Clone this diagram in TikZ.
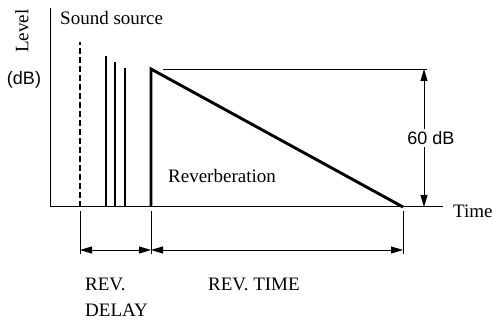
\documentclass[tikz,border=0pt]{standalone}
\usepackage{fontspec}
\setmainfont{Liberation Serif}
\newfontfamily\labelsans{Liberation Sans}
\usetikzlibrary{arrows.meta,positioning}

\begin{document}
\begin{tikzpicture}[x=1pt, y=-1pt,
  font=\fontsize{19}{22}\selectfont,
  axis/.style ={line width=1pt},
  pulse/.style={line width=2.9pt},
  direct/.style={line width=2.6pt, dash pattern=on 6pt off 3pt},
  guide/.style={line width=0.9pt},
  dim/.style  ={{Triangle[length=12pt,width=7pt]}-{Triangle[length=12pt,width=7pt]},
                line width=0.9pt},
  txt/.style  ={inner sep=0pt},
  sanstxt/.style={inner sep=2pt, fill=white,
                font=\labelsans\fontsize{18}{21}\selectfont},
]
\useasboundingbox (0,0) rectangle (493,320);

% === Key points ===
\coordinate (origin)   at (50,207);
\coordinate (ytop)     at (50,8);
\coordinate (xend)     at (443,207);
\coordinate (src)      at (80,207);
\coordinate (revstart) at (151,207);
\coordinate (peak)     at (151,69);
\coordinate (revend)   at (403,207);

% === Axes ===
\draw[axis] (ytop) -- (origin) -- (xend);
\node[txt, anchor=base west] (time) at (453,218) {Time};
\node[txt, rotate=90] (level) at (22,31) {Level};
\node[sanstxt, fill=none, inner sep=0pt] (db) at (24,80) {(dB)};
\node[txt, anchor=base west] (sound) at (60,25) {Sound source};

% === Direct sound and early reflections ===
\draw[direct] (src) -- (80,42);
\draw[pulse] (106,207) -- (106,56);
\draw[pulse] (115,207) -- (115,62);
\draw[pulse] (125,207) -- (125,68);

% === Reverberation decay ===
\draw[pulse, line join=miter] (revstart) -- (peak) -- (revend);
\node[txt, anchor=base west] (reverb) at (168,183) {Reverberation};

% === 60 dB span ===
\draw[guide] (163,69) -- (427,69);
\coordinate (dbtop) at (424,69);
\coordinate (dbbot) at (424,207);
\draw[dim] (dbtop) -- (dbbot);
\node[sanstxt] (sixty) at (431,138) {60 dB};

% === Time spans ===
\draw[guide] (80,211) -- (80,254);
\draw[guide] (151,211) -- (151,254);
\draw[guide] (403,211) -- (403,254);
\coordinate (d0) at (80,250);
\coordinate (d1) at (151,250);
\coordinate (d2) at (403,250);
\draw[dim] (d0) -- (d1);
\draw[dim] (d1) -- (d2);

\node[txt, anchor=base west] (revdelay) at (85,291) {REV.};
\node[txt, anchor=base west] (delay) at (85,317) {DELAY};
\node[txt, anchor=base west] (revtime) at (208,291) {REV. TIME};

\end{tikzpicture}
\end{document}
